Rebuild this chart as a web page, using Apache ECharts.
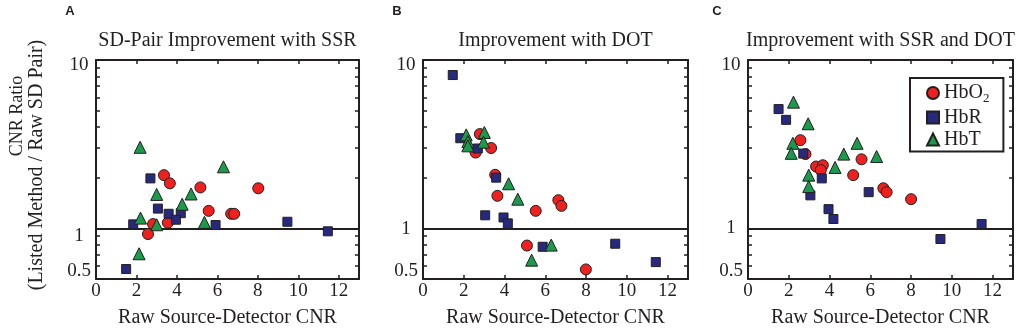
<!DOCTYPE html>
<html><head><meta charset="utf-8">
<script src="https://cdn.jsdelivr.net/npm/echarts@6/dist/echarts.min.js"></script>
<style>html,body{margin:0;padding:0;background:#fff}#c{width:1020px;height:333px}</style>
</head><body><div id="c"></div>
<script>
// ---- data ----
const panelLetters = ['A', 'B', 'C'];
const panelTitles = ['SD-Pair Improvement with SSR', 'Improvement with DOT', 'Improvement with SSR and DOT'];
const xAxisName = 'Raw Source-Detector CNR';
const yAxisName1 = 'CNR Ratio';
const yAxisName2 = '(Listed Method / Raw SD Pair)';
const seriesNames = ['HbO2', 'HbR', 'HbT'];
const xTickLabels = [0, 2, 4, 6, 8, 10, 12];
const yTickLabels = [0.5, 1, 10];
const yMinorTicks = [0.5, 0.6, 0.7, 0.8, 0.9, 1, 2, 3, 4, 5, 6, 7, 8, 9, 10];
const xRange = [0, 13];
const yRange = [0.5, 10];
const refLine = 1;

// Panel A: SD-pair improvement with SSR
const ssrHbO2 = [[3.36,2.07],[3.65,1.85],[5.16,1.75],[8.02,1.73],[5.57,1.27],[6.68,1.22],[6.83,1.22],[3.55,1.08],[2.82,1.06],[2.57,0.925]];
const ssrHbR  = [[2.69,1.98],[3.06,1.31],[3.59,1.22],[4.19,1.23],[3.95,1.125],[1.84,1.056],[5.91,1.046],[9.46,1.094],[11.46,0.96],[1.49,0.573]];
const ssrHbT  = [[2.18,3.03],[6.30,2.32],[3.0,1.59],[4.70,1.60],[4.26,1.39],[2.2,1.15],[5.36,1.085],[3.0,1.05],[2.13,0.706]];
// Panel B: improvement with DOT
const dotHbO2 = [[2.79,3.63],[2.58,2.82],[3.34,3.0],[3.54,2.08],[3.65,1.56],[6.64,1.47],[6.79,1.36],[5.53,1.27],[5.1,0.79],[7.99,0.57]];
const dotHbR  = [[1.46,8.14],[1.83,3.43],[2.69,2.98],[3.59,2.0],[3.05,1.195],[3.95,1.16],[4.16,1.07],[5.87,0.777],[9.43,0.81],[11.42,0.63]];
const dotHbT  = [[2.12,3.59],[3.01,3.71],[2.2,3.28],[2.2,3.09],[2.97,3.25],[4.2,1.84],[4.65,1.49],[6.29,0.795],[5.33,0.647]];
// Panel C: improvement with SSR and DOT
const bothHbO2 = [[2.57,3.34],[2.82,2.76],[3.34,2.33],[3.67,2.37],[3.57,2.22],[5.57,2.57],[5.16,2.07],[6.64,1.73],[6.80,1.64],[8.0,1.49]];
const bothHbR  = [[1.5,5.11],[1.87,4.41],[2.71,2.78],[3.62,1.98],[3.06,1.57],[5.92,1.64],[3.95,1.30],[4.19,1.136],[11.46,1.06],[9.44,0.864]];
const bothHbT  = [[2.23,5.62],[2.95,4.18],[2.2,3.2],[2.12,2.79],[5.35,3.2],[4.7,2.76],[6.31,2.67],[4.27,2.3],[2.98,2.07],[2.98,1.77]];

const panelData = [[ssrHbO2, ssrHbR, ssrHbT], [dotHbO2, dotHbR, dotHbT], [bothHbO2, bothHbR, bothHbT]];

// ---- styles / layout ----
const FONT = '"Liberation Serif", "Times New Roman", serif';
const INK = '#231f20';
const grids = [
  {left: 96, top: 60, width: 263, height: 219},
  {left: 423, top: 60, width: 265, height: 219},
  {left: 748, top: 60, width: 265, height: 219}
];
const seriesStyle = [
  {symbol: 'circle', symbolSize: 11, color: '#f0201f'},
  {symbol: 'rect', symbolSize: 9, color: '#272a7c'},
  {symbol: 'triangle', symbolSize: 12, color: '#1c9a4c'}
];
const oneShift = [16, 2, 0];

const lg = Math.log10;
const lineStyle = {color: INK, width: 2};
const tickStyle = {inside: true, length: 4, lineStyle: {color: INK, width: 1.5}};

const xAxes = [], yAxes = [], series = [], graphics = [];
grids.forEach((g, i) => {
  const base = {gridIndex: i, type: 'value', min: xRange[0], max: xRange[1],
    axisLine: {onZero: false, lineStyle}, splitLine: {show: false}};
  xAxes.push(Object.assign({}, base, {position: 'bottom',
    axisTick: Object.assign({customValues: xTickLabels.slice(1)}, tickStyle),
    axisLabel: {customValues: xTickLabels, color: INK, fontFamily: FONT, fontSize: 19, margin: 3}}));
  xAxes.push(Object.assign({}, base, {position: 'top',
    axisTick: Object.assign({customValues: xTickLabels.slice(1)}, tickStyle),
    axisLabel: {show: false}}));
  const ybase = {gridIndex: i, type: 'value', min: lg(yRange[0]), max: lg(yRange[1]),
    axisLine: {onZero: false, lineStyle}, splitLine: {show: false}};
  const rich = {
    t10: {fontFamily: FONT, fontSize: 19, color: INK, padding: [10, 0, 0, 0]},
    t1: {fontFamily: FONT, fontSize: 19, color: INK, padding: [oneShift[i], 0, 0, 0]},
    t05: {fontFamily: FONT, fontSize: 19, color: INK, padding: [0, 0, 16, 0]}
  };
  yAxes.push(Object.assign({}, ybase, {position: 'left',
    axisTick: Object.assign({customValues: yMinorTicks.map(lg)}, tickStyle),
    axisLabel: {customValues: yTickLabels.map(lg), align: 'center', margin: 17,
      color: INK, fontFamily: FONT, fontSize: 19, rich,
      formatter: v => {
        const n = Math.round(Math.pow(10, v) * 10) / 10;
        const k = n >= 10 ? 't10' : (n >= 1 ? 't1' : 't05');
        return '{' + k + '|' + n + '}';
      }}}));
  yAxes.push(Object.assign({}, ybase, {position: 'right',
    axisTick: Object.assign({customValues: yMinorTicks.map(lg)}, tickStyle),
    axisLabel: {show: false}}));

  panelData[i].forEach((arr, s) => {
    const st = seriesStyle[s];
    const ser = {
      type: 'scatter', name: seriesNames[s], xAxisIndex: 2 * i, yAxisIndex: 2 * i,
      symbol: st.symbol, symbolSize: st.symbolSize, z: 3 + s,
      itemStyle: {color: st.color, borderColor: INK, borderWidth: 1, opacity: 1},
      data: arr.map(p => [p[0], lg(p[1])])
    };
    if (s === 0) {
      ser.markLine = {silent: true, symbol: ['none', 'none'], label: {show: false},
        lineStyle: {color: INK, width: 2, type: 'solid'}, z: 2,
        data: [{yAxis: lg(refLine)}]};
    }
    series.push(ser);
  });

  const cx = g.left + g.width / 2;
  graphics.push({type: 'text', x: cx, y: 41, style: {text: panelTitles[i], fill: INK,
    font: '20px ' + FONT, align: 'center', verticalAlign: 'middle'}});
  graphics.push({type: 'text', x: cx, y: 318, style: {text: xAxisName, fill: INK,
    font: '20px ' + FONT, align: 'center', verticalAlign: 'middle'}});
});
graphics.push({type: 'text', x: 70, y: 11, style: {text: panelLetters[0], fill: INK, font: 'bold 13px "Liberation Sans", Arial, sans-serif', align: 'center', verticalAlign: 'middle'}});
graphics.push({type: 'text', x: 397, y: 11, style: {text: panelLetters[1], fill: INK, font: 'bold 13px "Liberation Sans", Arial, sans-serif', align: 'center', verticalAlign: 'middle'}});
graphics.push({type: 'text', x: 717, y: 11, style: {text: panelLetters[2], fill: INK, font: 'bold 13px "Liberation Sans", Arial, sans-serif', align: 'center', verticalAlign: 'middle'}});
graphics.push({type: 'text', x: 17, y: 116, rotation: Math.PI / 2, style: {text: yAxisName1, fill: INK,
  font: '18px ' + FONT, align: 'center', verticalAlign: 'middle'}});
graphics.push({type: 'text', x: 37, y: 165, rotation: Math.PI / 2, style: {text: yAxisName2, fill: INK,
  font: '20px ' + FONT, align: 'center', verticalAlign: 'middle'}});

const chart = echarts.init(document.getElementById('c'), null, {renderer: 'canvas'});
chart.setOption({
  animation: false,
  backgroundColor: '#fff',
  grid: grids,
  xAxis: xAxes,
  yAxis: yAxes,
  legend: {
    data: seriesNames, orient: 'vertical', left: 910, top: 78,
    backgroundColor: '#fff', borderColor: INK, borderWidth: 2,
    padding: [5, 14, 2, 16], itemGap: 2, itemWidth: 12, itemHeight: 12,
    textStyle: {fontFamily: FONT, fontSize: 20, color: INK, lineHeight: 20,
      rich: {sub: {fontFamily: FONT, fontSize: 13, color: INK, padding: [12, 0, 0, 0]}}},
    formatter: n => n === 'HbO2' ? 'HbO{sub|2}' : n
  },
  graphic: graphics,
  series: series
});
</script></body></html>
